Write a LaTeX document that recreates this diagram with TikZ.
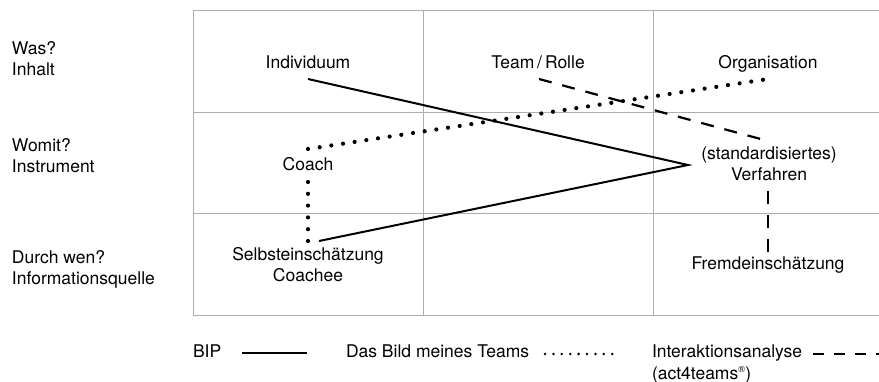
\documentclass[tikz,border=0pt]{standalone}
\usepackage{fontspec}
\setmainfont{TeX Gyre Heros}
\begin{document}
\begin{tikzpicture}[x=1pt,y=-1pt,
  every node/.style={inner sep=0pt,outer sep=0pt,font=\fontsize{17.5}{21}\selectfont},
  lbl/.style={anchor=base,align=center},
  side/.style={anchor=base west,align=left},
  gridline/.style={draw=black!32,line width=1pt},
  bip/.style={line width=2pt},
  bild/.style={line width=4.2pt,line cap=round,dash pattern=on 0pt off 11.8pt},
  bildleg/.style={line width=2.8pt,line cap=round,dash pattern=on 0pt off 8.4pt},
  inter/.style={line width=2.2pt,dash pattern=on 13pt off 11pt}]
\useasboundingbox (0,0) rectangle (879,382);
% grid
\draw[gridline] (193,11) -- (879,11);
\draw[gridline] (193,113) -- (879,113);
\draw[gridline] (193,214) -- (879,214);
\draw[gridline] (193,316) -- (879,316);
\draw[gridline] (193,11) -- (193,316);
\draw[gridline] (423,11) -- (423,316);
\draw[gridline] (653,11) -- (653,316);
% side labels (base = last line)
\node[side] (was) at (12,76) {Was?\\Inhalt};
\node[side] (womit) at (12,173) {Womit?\\Instrument};
\node[side] (durch) at (12,285) {Durch wen?\\Informationsquelle};
% cell labels
\node[lbl] (ind) at (308,69) {Individuum};
\node[lbl] (team) at (538,69) {Team\,/\,Rolle};
\node[lbl] (org) at (768,69) {Organisation};
\node[lbl] (coach) at (308,171) {Coach};
\node[lbl] (verf) at (769,181) {(standardisiertes)\\Verfahren};
\node[lbl] (selbst) at (308,282) {Selbsteinschätzung\\Coachee};
\node[lbl] (fremd) at (768,270) {Fremdeinschätzung};
% connector end points
\coordinate (indS) at (308,79);
\coordinate (apex) at (688,165);
\coordinate (selbN) at (319,241);
\coordinate (coachN) at (308,149);
\coordinate (coachS) at (308,182);
\coordinate (selbNd) at (308,241);
\coordinate (orgS) at (768,79);
\coordinate (teamS) at (539,79);
\coordinate (verfN) at (768,141);
\coordinate (verfS) at (768,191);
\coordinate (fremdN) at (768,253);
% connectors
\draw[bip] (indS) -- (apex) -- (selbN);
\draw[bild] (coachN) -- (orgS);
\draw[bild] (coachS) -- (selbNd);
\draw[inter] (teamS) -- (verfN);
\draw[inter] (verfS) -- (fremdN);
% legend
\node[side] (lbip) at (193,358) {BIP};
\coordinate (lbipA) at (242,353);
\coordinate (lbipB) at (307,353);
\draw[bip,line width=2.4pt] (lbipA) -- (lbipB);
\node[side] (lbild) at (346,358) {Das Bild meines Teams};
\coordinate (lbildA) at (545,354);
\coordinate (lbildB) at (613,354);
\draw[bildleg] (lbildA) -- (lbildB);
\node[side] (linter) at (652,379) {Interaktionsanalyse\\(act4teams\textsuperscript{\fontsize{9}{9}\selectfont®})};
\coordinate (linterA) at (813,354);
\coordinate (linterB) at (884,354);
\draw[inter,dash pattern=on 11pt off 10pt] (linterA) -- (linterB);
\end{tikzpicture}
\end{document}
